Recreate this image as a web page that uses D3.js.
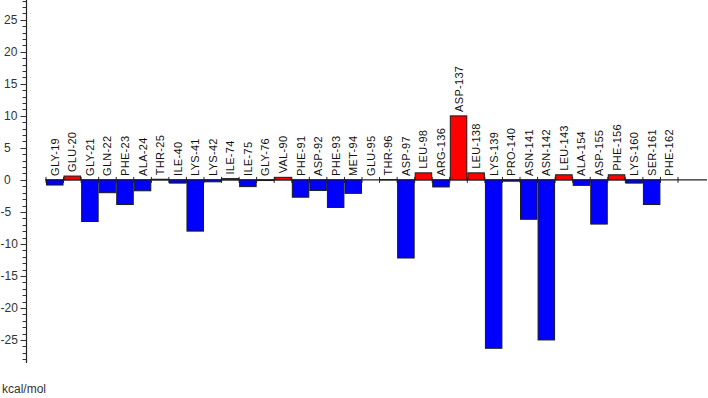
<!DOCTYPE html>
<html>
<head>
<meta charset="utf-8">
<script src="https://cdn.jsdelivr.net/npm/d3@7"></script>
<style>
  body { margin: 0; background: #fff; }
  svg { display: block; font-family: Arial, "Liberation Sans", sans-serif; }
</style>
</head>
<body>
<div id="chart"></div>
<script>
// residue energy contributions, kcal/mol
const residues = ["GLY-19","GLU-20","GLY-21","GLN-22","PHE-23","ALA-24","THR-25","ILE-40","LYS-41","LYS-42",
  "ILE-74","ILE-75","GLY-76","VAL-90","PHE-91","ASP-92","PHE-93","MET-94","GLU-95","THR-96",
  "ASP-97","LEU-98","ARG-136","ASP-137","LEU-138","LYS-139","PRO-140","ASN-141","ASN-142","LEU-143",
  "ALA-154","ASP-155","PHE-156","LYS-160","SER-161","PHE-162"] ;
const energies = [-0.8, 0.6, -6.5, -2.0, -3.85, -1.7, 0.1, -0.5, -8.0, -0.3,
  0.2, -1.05, -0.1, 0.4, -2.7, -1.65, -4.3, -2.1, 0, 0.05,
  -12.2, 1.1, -1.1, 10.0, 1.1, -26.3, -0.2, -6.15, -25.0, 0.8,
  -0.85, -6.9, 0.8, -0.5, -3.85, 0] ;
const majorTicks = [-25, -20, -15, -10, -5, 0, 5, 10, 15, 20, 25] ;
const unitLabel = "kcal/mol" ;

const data = residues.map((r, i) => ({name: r, value: energies[i]})) ;

const width = 708, height = 398 ;
const axisX = 26.5 ;

const svg = d3.select("#chart").append("svg")
    .attr("width", width)
    .attr("height", height)
;

const yScale = d3.scaleLinear()
  .domain([-28.6, 28.1])
  .range([363, 0])
;
const xScale = d3.scaleBand()
  .domain(residues)
  .range([46, 678])
  .paddingInner(0.06)
  .paddingOuter(0.03)
;
const step = xScale.step() ;
const x0 = 46 ;
const y0 = yScale(0) ;

// y axis: line, minor ticks every 1, major every 5
const yAxis = svg.append("g") ;
yAxis.append("line")
  .attr("x1", axisX).attr("x2", axisX)
  .attr("y1", 0).attr("y2", yScale(-28.6))
  .attr("stroke", "#222").attr("stroke-width", 1.2)
;
yAxis.selectAll("line.minor")
  .data(d3.range(-28, 29))
  .enter().append("line")
    .attr("class", "minor")
    .attr("x1", d => d % 5 == 0 ? axisX - 6 : axisX - 4)
    .attr("x2", axisX)
    .attr("y1", d => Math.round(yScale(d)) + 0.5)
    .attr("y2", d => Math.round(yScale(d)) + 0.5)
    .attr("stroke", "#333")
;
yAxis.selectAll("text")
  .data(majorTicks)
  .enter().append("text")
    .attr("x", d => d < 0 ? 0.5 : 4)
    .attr("y", d => yScale(d))
    .attr("dy", "0.36em")
    .attr("font-size", 12)
    .attr("fill", "#333")
    .text(d => d)
;

// zero line with boundary ticks
svg.append("line")
  .attr("x1", 45).attr("x2", 707)
  .attr("y1", y0).attr("y2", y0)
  .attr("stroke", "#222").attr("stroke-width", 1.2)
;
svg.selectAll("line.bound")
  .data(d3.range(0, residues.length + 1))
  .enter().append("line")
    .attr("class", "bound")
    .attr("x1", i => x0 + i * step).attr("x2", i => x0 + i * step)
    .attr("y1", y0 - 3).attr("y2", y0 + 3)
    .attr("stroke", "#222")
;

// bars
svg.selectAll("rect")
  .data(data)
  .enter().append("rect")
    .attr("x", d => xScale(d.name))
    .attr("width", xScale.bandwidth())
    .attr("y", d => yScale(Math.max(0, d.value)))
    .attr("height", d => Math.abs(yScale(d.value) - y0))
    .attr("fill", d => d.value > 0 ? "#ff0000" : "#0000ff")
    .attr("stroke", "#1a1a1a")
    .attr("stroke-width", 1)
;

// residue labels
svg.selectAll("text.res")
  .data(data)
  .enter().append("text")
    .attr("class", "res")
    .attr("transform", d => `translate(${xScale(d.name) + xScale.bandwidth() / 2},${yScale(Math.max(0, d.value)) - 4}) rotate(-90)`)
    .attr("dy", "0.36em")
    .attr("font-size", 11)
    .attr("fill", "#111")
    .attr("letter-spacing", 0.3)
    .text(d => d.name)
;

svg.append("text")
  .attr("x", 2)
  .attr("y", 389)
  .attr("dy", "0.36em")
  .attr("font-size", 12)
  .attr("fill", "#333")
  .text(unitLabel)
;
</script>
</body>
</html>
